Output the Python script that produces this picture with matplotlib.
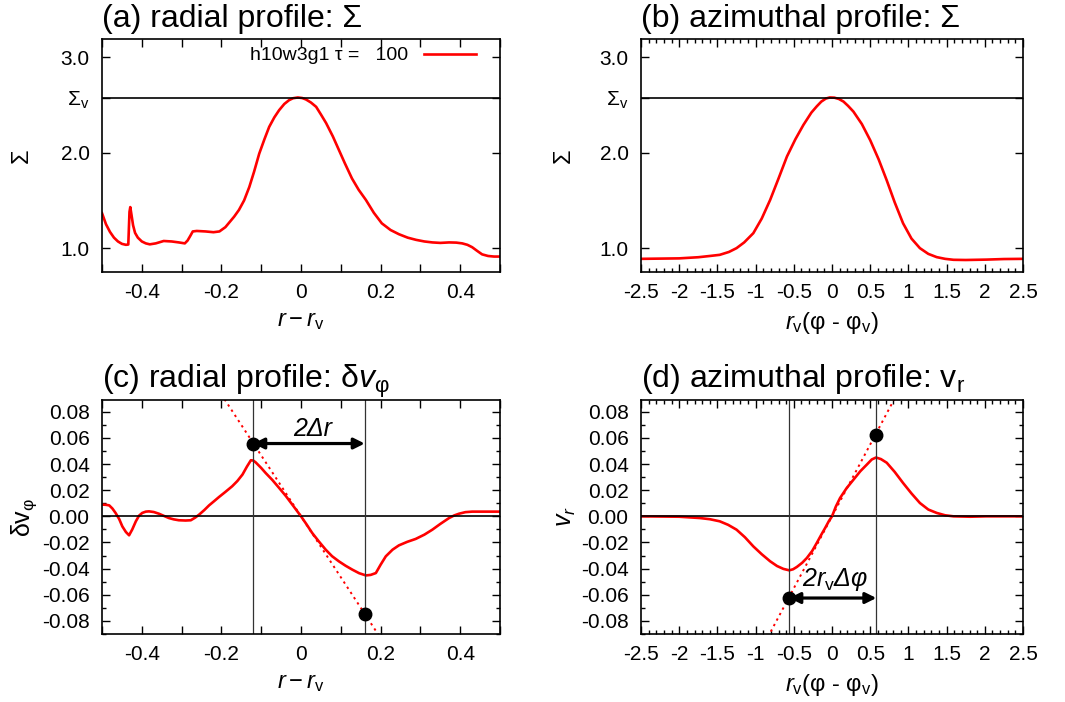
import numpy as np
import matplotlib
matplotlib.use('Agg')
import matplotlib.pyplot as plt
from matplotlib.ticker import MultipleLocator, FuncFormatter

plt.rcParams['font.family'] = ['Liberation Sans', 'DejaVu Sans']
plt.rcParams['mathtext.fontset'] = 'custom'
plt.rcParams['mathtext.rm'] = 'Liberation Sans'
plt.rcParams['mathtext.it'] = 'Liberation Sans:italic'
plt.rcParams['mathtext.bf'] = 'Liberation Sans:bold'
plt.rcParams['axes.unicode_minus'] = False

# (a) radial profile of Sigma
a_x = [-0.5, -0.49, -0.48, -0.47, -0.46, -0.45, -0.44, -0.434, -0.431, -0.429, -0.426,
       -0.422, -0.417, -0.41, -0.40, -0.39, -0.38, -0.365, -0.345, -0.325, -0.307, -0.292,
       -0.285, -0.278, -0.272, -0.262, -0.24, -0.22, -0.205, -0.19, -0.18, -0.168, -0.156,
       -0.143, -0.13, -0.118, -0.105, -0.092, -0.08, -0.067, -0.055, -0.042, -0.03, -0.02,
       -0.008, 0.003, 0.0125, 0.025, 0.038, 0.05, 0.063, 0.08, 0.095, 0.11, 0.128, 0.145,
       0.163, 0.183, 0.203, 0.225, 0.246, 0.268, 0.289, 0.31, 0.33, 0.35, 0.372, 0.39,
       0.405, 0.418, 0.43, 0.443, 0.455, 0.47, 0.485, 0.5]
a_sig = [1.366, 1.25, 1.17, 1.11, 1.07, 1.045, 1.035, 1.038, 1.38, 1.43, 1.35,
         1.24, 1.16, 1.11, 1.07, 1.05, 1.04, 1.05, 1.075, 1.07, 1.06, 1.05,
         1.08, 1.13, 1.175, 1.18, 1.175, 1.167, 1.175, 1.22, 1.27, 1.33, 1.40,
         1.50, 1.64, 1.80, 1.99, 2.14, 2.27, 2.37, 2.445, 2.51, 2.55, 2.57,
         2.578, 2.572, 2.557, 2.525, 2.48, 2.40, 2.31, 2.17, 2.03, 1.89, 1.73, 1.61,
         1.505, 1.37, 1.26, 1.19, 1.146, 1.11, 1.087, 1.07, 1.06, 1.055, 1.06, 1.058,
         1.05, 1.035, 1.01, 0.97, 0.935, 0.918, 0.912, 0.912]

# (b) azimuthal profile of Sigma
b_x = [-2.5, -2.0, -1.75, -1.6, -1.47, -1.35, -1.25, -1.15, -1.03, -0.92, -0.81, -0.70,
       -0.59, -0.48, -0.375, -0.27, -0.2, -0.14, -0.08, -0.03, 0.03, 0.09, 0.15, 0.21,
       0.28, 0.39, 0.50, 0.61, 0.716, 0.82, 0.93, 1.04, 1.15, 1.26, 1.37, 1.48, 1.59,
       1.75, 2.02, 2.25, 2.5]
b_sig = [0.888, 0.893, 0.905, 0.918, 0.93, 0.96, 1.0, 1.06, 1.157, 1.31, 1.505, 1.73,
         1.96, 2.14, 2.29, 2.42, 2.485, 2.535, 2.567, 2.578, 2.576, 2.562, 2.535, 2.49,
         2.43, 2.30, 2.13, 1.93, 1.71, 1.48, 1.26, 1.10, 1.0, 0.94, 0.906, 0.888, 0.878,
         0.876, 0.88, 0.886, 0.888]

# (c) radial profile of delta v_phi
c_x = [-0.5, -0.49, -0.482, -0.474, -0.466, -0.457, -0.449, -0.44, -0.432, -0.424,
       -0.415, -0.407, -0.399, -0.39, -0.382, -0.37, -0.357, -0.345, -0.332, -0.32,
       -0.307, -0.29, -0.277, -0.266, -0.256, -0.243, -0.231, -0.218, -0.206, -0.19,
       -0.173, -0.16, -0.147, -0.136, -0.126, -0.12, -0.114, -0.1, -0.089, -0.072,
       -0.055, -0.038, -0.022, -0.011, 0.0, 0.014, 0.028, 0.045, 0.062, 0.078, 0.095,
       0.112, 0.129, 0.146, 0.163, 0.175, 0.188, 0.2, 0.213, 0.23, 0.246, 0.267, 0.288,
       0.31, 0.33, 0.35, 0.372, 0.385, 0.397, 0.413, 0.43, 0.46, 0.5]
c_dv = [0.009, 0.0088, 0.0084, 0.006, 0.0026, -0.002, -0.0077, -0.012, -0.0145, -0.010,
        -0.0038, 0.0005, 0.0026, 0.0036, 0.0038, 0.0033, 0.002, 0.0004, -0.0013, -0.0023,
        -0.003, -0.0032, -0.003, -0.001, 0.0013, 0.0048, 0.0084, 0.0117, 0.0148, 0.0187,
        0.023, 0.027, 0.032, 0.038, 0.0429, 0.0427, 0.0413, 0.037, 0.0332, 0.0278,
        0.0217, 0.0155, 0.009, 0.0045, 0.0, -0.0062, -0.0127, -0.0193, -0.0255, -0.0305, -0.0344,
        -0.0378, -0.0408, -0.0435, -0.0452, -0.0448, -0.0434, -0.037, -0.0306, -0.0255, -0.0222, -0.0195, -0.0173,
        -0.014, -0.0102, -0.0058, -0.0013, 0.0007, 0.002, 0.0032, 0.0036, 0.0036, 0.0036]

# (d) azimuthal profile of v_r
d_x = [-2.5, -2.0, -1.73, -1.6, -1.47, -1.36, -1.25, -1.14, -1.03, -0.92, -0.81, -0.72,
       -0.637, -0.56, -0.51, -0.46, -0.39, -0.33, -0.26, -0.2, -0.14, -0.09, -0.04, 0.0,
       0.05, 0.105, 0.19, 0.28, 0.37, 0.454, 0.52, 0.576, 0.64, 0.716, 0.82, 0.93, 1.04,
       1.15, 1.26, 1.37, 1.48, 1.59, 1.81, 2.02, 2.5]
d_vr = [0.0, -0.0003, -0.0013, -0.0022, -0.0038, -0.0065, -0.0102, -0.016, -0.023, -0.029,
        -0.0344, -0.038, -0.0402, -0.0413, -0.0405, -0.0387, -0.0355, -0.0319, -0.0265,
        -0.0204, -0.014, -0.0089, -0.0035, 0.0, 0.0075, 0.014, 0.0215, 0.028, 0.0345,
        0.0395, 0.0435, 0.045, 0.0438, 0.041, 0.034, 0.0255, 0.0175, 0.0102, 0.0052,
        0.0026, 0.0008, 0.0, -0.0003, 0.0, 0.0]

sigma_v = 2.575
# vortex width markers
c_edges = [-0.12, 0.16]
c_dots = [0.0557, -0.0747]
c_slope = -0.466
d_edges = [-0.559, 0.58]
d_dots = [-0.0625, 0.0623]
d_slope = 0.11

fig = plt.figure(figsize=(10.65, 7.02), dpi=100)
ax_a = fig.add_axes([0.0958, 0.6125, 0.3737, 0.3319])
ax_b = fig.add_axes([0.6019, 0.6125, 0.3587, 0.3319])
ax_c = fig.add_axes([0.0958, 0.0969, 0.3737, 0.3333])
ax_d = fig.add_axes([0.6019, 0.0969, 0.3587, 0.3333])

fs_tick = 15
fs_lab = 17
fs_title = 23
red = '#ff0000'

def style(ax):
    for s in ax.spines.values():
        s.set_linewidth(1.2)
    ax.tick_params(which='both', direction='in', top=True, right=True, labelsize=fs_tick,
                   width=1.0, pad=9)
    ax.tick_params(axis='x', which='both', pad=8)
    ax.tick_params(which='major', length=6)
    ax.tick_params(which='minor', length=3)

fmt_g = FuncFormatter(lambda v, p: '%g' % round(v, 6))
lab_r = r'$r - r_{\mathrm{v}}$'
lab_phi = r'$r_{\mathrm{v}}$(φ - φ$_{\mathrm{v}}$)'

# (a)
ax_a.plot(a_x, a_sig, color=red, lw=1.9, label='h10w3g1 τ =   100')
ax_a.axhline(sigma_v, color='black', lw=1.2)
ax_a.set_xlim(-0.5, 0.5)
ax_a.set_ylim(0.75, 3.19)
ax_a.set_yticks([1.0, 2.0, sigma_v, 3.0])
ax_a.set_yticklabels(['1.0', '2.0', r'$\mathrm{Σ_v}$', '3.0'])
ax_a.xaxis.set_major_locator(MultipleLocator(0.2))
ax_a.xaxis.set_minor_locator(MultipleLocator(0.1))
ax_a.xaxis.set_major_formatter(fmt_g)
style(ax_a)
ax_a.tick_params(axis='x', which='minor', length=6)
ax_a.set_xlabel(lab_r, fontsize=fs_lab, labelpad=6)
ax_a.set_ylabel('Σ', fontsize=fs_lab, labelpad=20)
ax_a.set_title('(a) radial profile: Σ', loc='left', fontsize=fs_title, pad=9)
ax_a.legend(loc='upper right', frameon=False, markerfirst=False, fontsize=14,
            handlelength=2.7, handletextpad=0.8, borderaxespad=0.0,
            bbox_to_anchor=(0.96, 1.0))

# (b)
ax_b.plot(b_x, b_sig, color=red, lw=1.9)
ax_b.axhline(sigma_v, color='black', lw=1.2)
ax_b.set_xlim(-2.5, 2.5)
ax_b.set_ylim(0.75, 3.19)
ax_b.set_yticks([1.0, 2.0, sigma_v, 3.0])
ax_b.set_yticklabels(['1.0', '2.0', r'$\mathrm{Σ_v}$', '3.0'])
ax_b.xaxis.set_major_locator(MultipleLocator(0.5))
ax_b.xaxis.set_minor_locator(MultipleLocator(0.1))
ax_b.xaxis.set_major_formatter(fmt_g)
style(ax_b)
ax_b.set_xlabel(lab_phi, fontsize=fs_lab, labelpad=6)
ax_b.set_ylabel('Σ', fontsize=fs_lab, labelpad=18)
ax_b.set_title('(b) azimuthal profile: Σ', loc='left', fontsize=fs_title, pad=9)

# (c)
ax_c.plot(c_x, c_dv, color=red, lw=1.9)
ax_c.axhline(0, color='black', lw=1.2)
for xe in c_edges:
    ax_c.axvline(xe, color='#333333', lw=0.9)
ax_c.plot([-0.5, 0.5], [c_slope * -0.5, c_slope * 0.5], color=red, lw=1.4, ls=(0, (1.2, 2)))
ax_c.plot(c_edges, c_dots, 'o', color='black', ms=9, zorder=5)
ax_c.annotate('', xy=(c_edges[1], c_dots[0]), xytext=(c_edges[0], c_dots[0]),
              arrowprops=dict(arrowstyle='<|-|>', lw=2.3, color='black', mutation_scale=16,
                              shrinkA=0, shrinkB=0))
ax_c.text(0.028, 0.067, '2Δr', style='italic', fontsize=18, ha='center', va='center')
ax_c.set_xlim(-0.5, 0.5)
ax_c.set_ylim(-0.09, 0.089)
ax_c.xaxis.set_major_locator(MultipleLocator(0.2))
ax_c.xaxis.set_minor_locator(MultipleLocator(0.1))
ax_c.xaxis.set_major_formatter(fmt_g)
ax_c.yaxis.set_major_locator(MultipleLocator(0.02))
ax_c.yaxis.set_minor_locator(MultipleLocator(0.01))
ax_c.yaxis.set_major_formatter(FuncFormatter(lambda v, p: '%.2f' % (v + 0.0)))
style(ax_c)
ax_c.tick_params(axis='x', which='minor', length=6)
ax_c.set_xlabel(lab_r, fontsize=fs_lab, labelpad=6)
ax_c.set_ylabel(r'$\mathrm{δv_φ}$', fontsize=18, labelpad=2)
ax_c.set_title(r'(c) radial profile: $\mathrm{δ}v_{\mathrm{φ}}$', loc='left', fontsize=fs_title, pad=9)

# (d)
ax_d.plot(d_x, d_vr, color=red, lw=1.9)
ax_d.axhline(0, color='black', lw=1.2)
for xe in d_edges:
    ax_d.axvline(xe, color='#333333', lw=0.9)
ax_d.plot([-2.5, 2.5], [d_slope * -2.5, d_slope * 2.5], color=red, lw=1.4, ls=(0, (1.2, 2)))
ax_d.plot(d_edges, d_dots, 'o', color='black', ms=9, zorder=5)
ax_d.annotate('', xy=(d_edges[1], d_dots[0]), xytext=(d_edges[0], d_dots[0]),
              arrowprops=dict(arrowstyle='<|-|>', lw=2.3, color='black', mutation_scale=16,
                              shrinkA=0, shrinkB=0))
ax_d.text(0.04, -0.048, r'2$r_{\mathrm{v}}$Δφ', style='italic', fontsize=18,
          ha='center', va='center')
ax_d.set_xlim(-2.5, 2.5)
ax_d.set_ylim(-0.09, 0.089)
ax_d.xaxis.set_major_locator(MultipleLocator(0.5))
ax_d.xaxis.set_minor_locator(MultipleLocator(0.1))
ax_d.xaxis.set_major_formatter(fmt_g)
ax_d.yaxis.set_major_locator(MultipleLocator(0.02))
ax_d.yaxis.set_minor_locator(MultipleLocator(0.01))
ax_d.yaxis.set_major_formatter(FuncFormatter(lambda v, p: '%.2f' % (v + 0.0)))
style(ax_d)
ax_d.set_xlabel(lab_phi, fontsize=fs_lab, labelpad=6)
ax_d.set_ylabel(r'$v_r$', fontsize=18, labelpad=2)
ax_d.set_title(r'(d) azimuthal profile: $\mathrm{v_r}$', loc='left', fontsize=fs_title, pad=9)

fig.savefig('out.png', dpi=100)
